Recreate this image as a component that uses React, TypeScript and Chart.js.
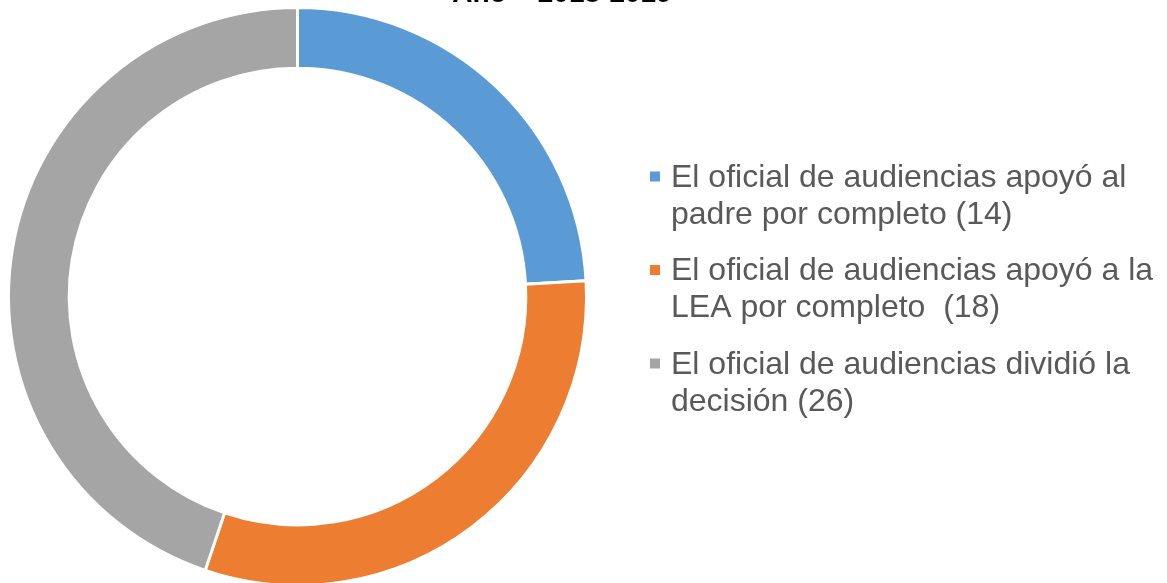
import React, { useEffect, useRef } from "react";
import { Chart, registerables } from "chart.js";

Chart.register(...registerables);

const categories: string[][] = [
  ["El oficial de audiencias apoyó al", "padre por completo (14)"],
  ["El oficial de audiencias apoyó a la", "LEA por completo  (18)"],
  ["El oficial de audiencias dividió la", "decisión (26)"],
];
const values: number[] = [14, 18, 26];
const colors: string[] = ["#5B9BD5", "#ED7D31", "#A5A5A5"];
const titleText = "Año – 2018-2019";

const FONT = "'Liberation Sans', Arial, sans-serif";

const legendPlugin = {
  id: "customLegend",
  afterDraw(chart: any) {
    const ctx = chart.ctx;
    ctx.save();
    // partially visible title at the top
    ctx.font = `bold 28px ${FONT}`;
    ctx.fillStyle = "#000000";
    ctx.textAlign = "center";
    ctx.textBaseline = "alphabetic";
    ctx.fillText(titleText, 562, 1.5);

    ctx.font = `32px ${FONT}`;
    ctx.textAlign = "left";
    const startY = 186.5;
    const itemGap = 93.5;
    const lineH = 37;
    categories.forEach((lines, i) => {
      const y0 = startY + i * itemGap;
      ctx.fillStyle = colors[i];
      ctx.fillRect(650, y0 - 15, 10, 10);
      ctx.fillStyle = "#595959";
      lines.forEach((ln, j) => {
        ctx.fillText(ln, 671, y0 + j * lineH);
      });
    });
    ctx.restore();
  },
};

export default function App() {
  const ref = useRef<HTMLCanvasElement | null>(null);
  useEffect(() => {
    document.body.style.margin = "0";
    const chart = new Chart(ref.current as HTMLCanvasElement, {
      type: "doughnut",
      data: {
        labels: categories.map((c) => c.join(" ")),
        datasets: [
          {
            data: values,
            backgroundColor: colors,
            borderColor: "#ffffff",
            borderWidth: 3,
          },
        ],
      },
      options: {
        animation: false,
        responsive: false,
        cutout: "79%",
        layout: { padding: { left: 7, right: 579, top: 6, bottom: 13 } },
        plugins: {
          legend: { display: false },
          tooltip: { enabled: false },
        },
      },
      plugins: [legendPlugin],
    });
    return () => chart.destroy();
  }, []);
  return (
    <div style={{ position: "fixed", left: 0, top: 0, width: 1167, height: 583, overflow: "hidden", background: "#fff" }}>
      <canvas ref={ref} width={1167} height={600} style={{ width: 1167, height: 600, display: "block" }} />
    </div>
  );
}
